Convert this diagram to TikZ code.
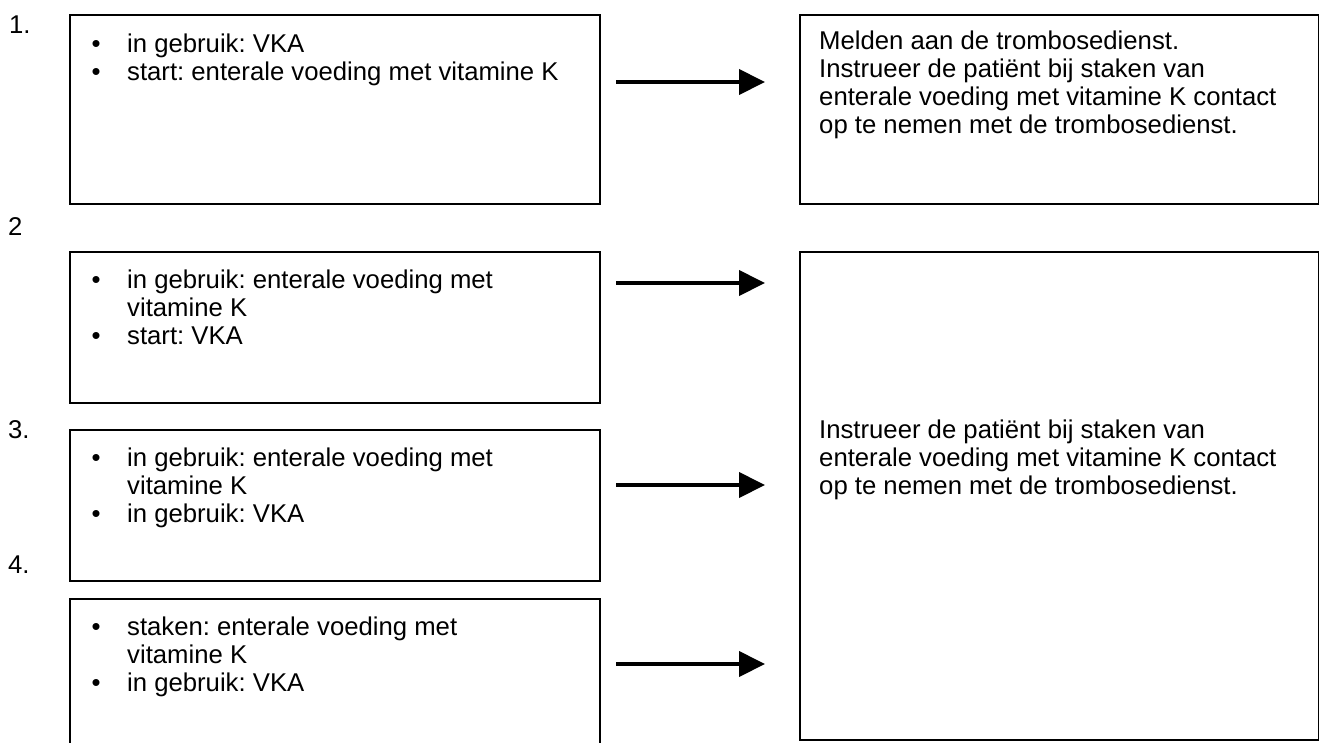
\documentclass[tikz,border=0pt]{standalone}
\usepackage{fontspec}
\setmainfont{Liberation Sans}
\usetikzlibrary{arrows.meta,calc}
\frenchspacing
\begin{document}
\begin{tikzpicture}[x=1pt,y=-1pt,
 box/.style={draw,line width=2pt,anchor=north west,inner sep=0pt},
 txt/.style={anchor=base west,inner sep=0pt,font=\fontsize{25.7}{28}\selectfont},
 bul/.style={anchor=base,inner sep=0pt,font=\fontsize{25.7}{28}\selectfont},
 arr/.style={line width=4pt,-{Triangle[length=26pt,width=25pt]}}]
\useasboundingbox (0,0) rectangle (1319,742);
% left boxes
\node[box,minimum width=530pt,minimum height=189pt] (b1) at (69,14) {};
\node[box,minimum width=530pt,minimum height=151pt] (b2) at (69,251) {};
\node[box,minimum width=530pt,minimum height=151pt] (b3) at (69,429) {};
\node[box,minimum width=530pt,minimum height=170pt] (b4) at (69,598) {};
% right boxes
\node[box,minimum width=519pt,minimum height=189pt] (r1) at (799,14) {};
\node[box,minimum width=519pt,minimum height=488pt] (r2) at (799,251) {};
% labels
\node[txt] (l1) at (9,33) {1.};
\node[txt] (l2) at (8,235) {2};
\node[txt] (l3) at (8,438) {3.};
\node[txt] (l4) at (8,573) {4.};
% box 1
\node[bul] (p1a) at (96,52) {•};
\node[txt] (t1a) at (127,52) {in gebruik: VKA};
\node[bul] (p1b) at (96,80) {•};
\node[txt] (t1b) at (127,80) {start: enterale voeding met vitamine K};
% box 2
\node[bul] (p2a) at (96,288) {•};
\node[txt] (t2a) at (127,288) {in gebruik: enterale voeding met};
\node[txt] (t2b) at (127,316) {vitamine K};
\node[bul] (p2c) at (96,344) {•};
\node[txt] (t2c) at (127,344) {start: VKA};
% box 3
\node[bul] (p3a) at (96,466) {•};
\node[txt] (t3a) at (127,466) {in gebruik: enterale voeding met};
\node[txt] (t3b) at (127,494) {vitamine K};
\node[bul] (p3c) at (96,522) {•};
\node[txt] (t3c) at (127,522) {in gebruik: VKA};
% box 4
\node[bul] (p4a) at (96,635) {•};
\node[txt] (t4a) at (127,635) {staken: enterale voeding met};
\node[txt] (t4b) at (127,663) {vitamine K};
\node[bul] (p4c) at (96,691) {•};
\node[txt] (t4c) at (127,691) {in gebruik: VKA};
% right box 1
\node[txt] (s1a) at (819,49) {Melden aan de trombosedienst.};
\node[txt] (s1b) at (819,77) {Instrueer de patiënt bij staken van};
\node[txt] (s1c) at (819,105) {enterale voeding met vitamine K contact};
\node[txt] (s1d) at (819,133) {op te nemen met de trombosedienst.};
% right box 2
\node[txt] (s2a) at (819,438) {Instrueer de patiënt bij staken van};
\node[txt] (s2b) at (819,466) {enterale voeding met vitamine K contact};
\node[txt] (s2c) at (819,494) {op te nemen met de trombosedienst.};
% arrows
\draw[arr] ([shift={(15,68)}]b1.north east) -- ([shift={(-34,68)}]r1.north west);
\draw[arr] ([shift={(15,32)}]b2.north east) -- ([shift={(-34,32)}]r2.north west);
\draw[arr] ([shift={(15,56)}]b3.north east) -- ([shift={(-34,234)}]r2.north west);
\draw[arr] ([shift={(15,66)}]b4.north east) -- ([shift={(-34,413)}]r2.north west);
\end{tikzpicture}
\end{document}
